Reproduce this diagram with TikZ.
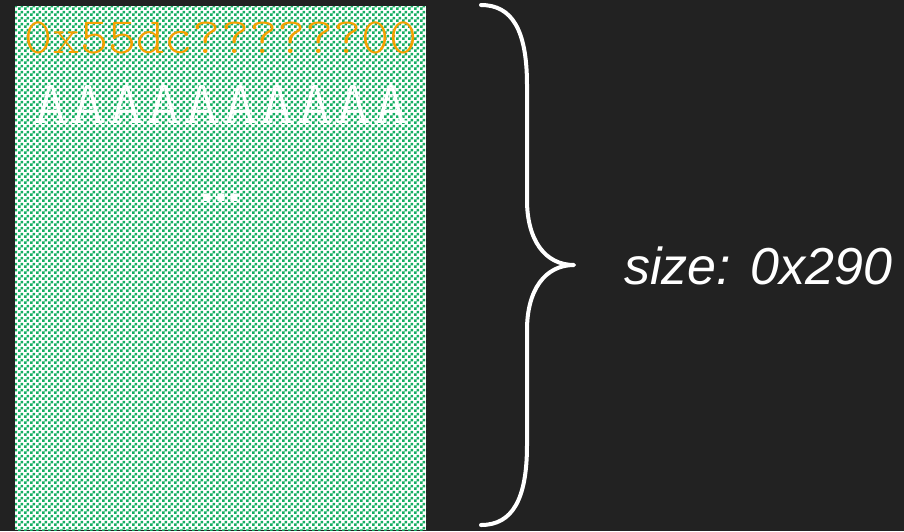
\documentclass[tikz,border=0pt]{standalone}
\usepackage{fontspec}
\setmainfont{Liberation Sans}
\newfontfamily\memfont{lmmonolt10-regular.otf}
\usetikzlibrary{patterns}
\definecolor{BgClr}{RGB}{34,34,34}
\definecolor{ChunkClr}{RGB}{0,168,84}
\definecolor{AddrClr}{RGB}{245,160,0}
\pgfdeclarepatternformonly{memcheck}{\pgfpointorigin}{\pgfqpoint{6pt}{6pt}}{\pgfqpoint{6pt}{6pt}}{%
  \pgfpathrectangle{\pgfpointorigin}{\pgfqpoint{3pt}{3pt}}%
  \pgfpathrectangle{\pgfqpoint{3pt}{3pt}}{\pgfqpoint{3pt}{3pt}}%
  \pgfusepath{fill}}

\begin{document}
\begin{tikzpicture}[x=1pt,y=-1pt]
\tikzset{
  memtext/.style={inner sep=0pt,anchor=base,transform shape},
  brace/.style={draw=white,line width=4pt,line cap=round,line join=round}
}

% background
\fill[BgClr] (0,0) rectangle (904,531);

% chunk
\fill[white] (15,6) rectangle (426,530);
\fill[pattern=memcheck,pattern color=ChunkClr!92] (15,6) rectangle (426,530);

\node[memtext,text=AddrClr,xscale=1.05,font=\memfont\fontsize{51}{51}\selectfont] (addr) at (221,53) {0x55dc??????00};
\node[memtext,text=white,xscale=1.18,font=\memfont\fontsize{61}{61}\selectfont] (fill) at (221,123) {AAAAAAAAAA};
\node[inner sep=0pt,anchor=base,text=white,font=\bfseries\fontsize{50}{50}\selectfont] (dots) at (221,201) {...};

% brace
\coordinate (tip) at (574,265);
\draw[brace] (481,5) .. controls (512,5) and (527,30) .. (527,85) -- (527,200)
  .. controls (527,240) and (545,265) .. (tip)
  .. controls (545,265) and (527,290) .. (527,330) -- (527,445)
  .. controls (527,500) and (512,525) .. (481,525);

\node[inner sep=0pt,anchor=base west,text=white,font=\itshape\fontsize{52}{52}\selectfont] (size) at (624,284) {size: 0x290};
\end{tikzpicture}
\end{document}
